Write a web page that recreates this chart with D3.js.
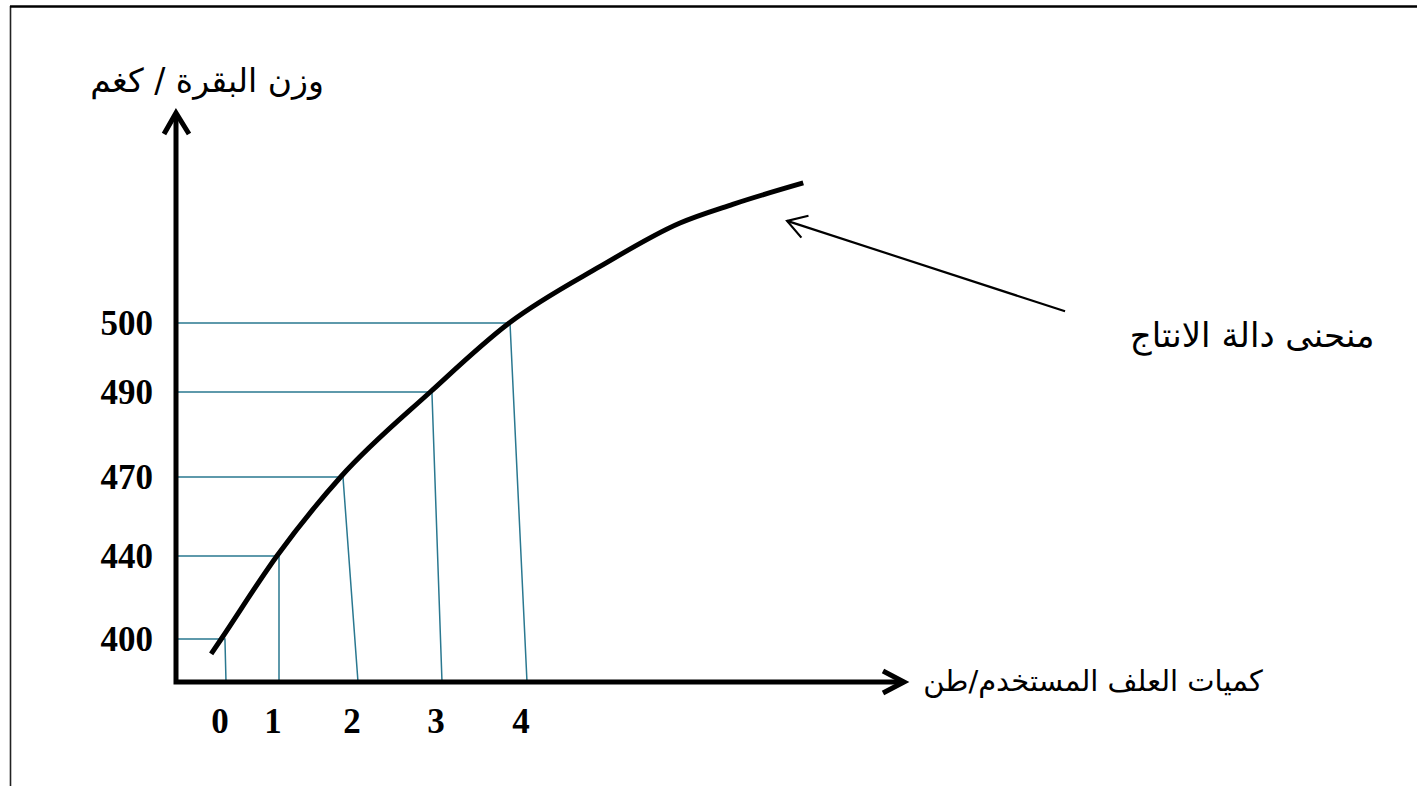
<!DOCTYPE html>
<html>
<head>
<meta charset="utf-8">
<script src="https://cdn.jsdelivr.net/npm/d3@7"></script>
<style>
  html, body { margin: 0; padding: 0; background: #fff; }
  svg { display: block; }
</style>
</head>
<body>
<svg id="chart" width="1417" height="786"></svg>
<script>
// ---------------- DATA ----------------
const feedTicks = [0, 1, 2, 3, 4];                 // كميات العلف (طن)
const feedTickLabels = ["0", "1", "2", "3", "4"];
const weightTicks = [400, 440, 470, 490, 500];     // وزن البقرة (كغم)
const weightTickLabels = ["400", "440", "470", "490", "500"];
// where each guide line meets the curve (feed units as drawn)
const guideFeed = [-0.02, 1.0, 1.81, 2.88, 3.80];
// production function curve
const curveFeed   = [-0.28, -0.09, 0.96, 1.78, 2.86, 3.79, 4.86, 5.80, 6.42, 7.25];
const curveWeight = [392.8, 400,   440,  470,  490,  500,  508.2, 514.5, 517.2, 520.3];
// annotation arrow (tail -> tip) and label
const annotFeed   = [10.33, 7.06];
const annotWeight = [501.7, 514.8];
const annotLabelFeed = 12.53, annotLabelWeight = 498.3;

const yTitle = "وزن البقرة / كغم";
const xTitle = "كميات العلف المستخدم/طن";
const curveLabel = "منحنى دالة الانتاج";

// ---------------- LAYOUT ----------------
const W = 1417, H = 786;
const originX = 176, originY = 682;
const xAxisEnd = 907, yAxisEnd = 110;
const xTickPos = [226, 279, 358, 442, 527];
const yTickPos = [639, 556, 477, 392, 323];
const guideColor = "#2a7890";

const svg = d3.select("#chart");

const x = d3.scaleLinear().domain(feedTicks).range(xTickPos);
const y = d3.scaleLinear().domain(weightTicks).range(yTickPos);

// frame
svg.append("line").attr("x1", 10.5).attr("x2", 10.5).attr("y1", 6).attr("y2", H)
  .attr("stroke", "#222").attr("stroke-width", 1.6);
svg.append("line").attr("x1", 10).attr("x2", W).attr("y1", 6.5).attr("y2", 6.5)
  .attr("stroke", "#000").attr("stroke-width", 2.6);

// guide lines
const guides = svg.append("g").attr("fill", "none").attr("stroke", guideColor).attr("stroke-width", 1.5);
weightTicks.forEach((w, i) => {
  guides.append("path").attr("d", d3.line()([
    [originX, y(w)],
    [x(guideFeed[i]), y(w)],
    [x(feedTicks[i]), originY]
  ]));
});

// curve
const curvePts = curveFeed.map((f, i) => [x(f), y(curveWeight[i])]);
svg.append("path")
  .attr("d", d3.line().curve(d3.curveMonotoneX)(curvePts))
  .attr("fill", "none").attr("stroke", "#000").attr("stroke-width", 5)
  .attr("stroke-linecap", "butt");

// axes
const axes = svg.append("g").attr("fill", "none").attr("stroke", "#000").attr("stroke-width", 5);
axes.append("path").attr("d", d3.line()([[originX, yAxisEnd + 3], [originX, originY], [xAxisEnd - 3, originY]]))
  .attr("stroke-linejoin", "miter");
axes.append("path").attr("d", d3.line()([[originX - 12, yAxisEnd + 24], [originX, yAxisEnd + 3], [originX + 13, yAxisEnd + 24]]))
  .attr("stroke-linejoin", "miter");
axes.append("path").attr("d", d3.line()([[xAxisEnd - 24, originY - 11], [xAxisEnd - 3, originY], [xAxisEnd - 24, originY + 11]]))
  .attr("stroke-linejoin", "miter");

// tick labels
const tickFont = "'Liberation Serif', 'Times New Roman', serif";
svg.append("g").selectAll("text").data(weightTicks).join("text")
  .attr("x", 153).attr("y", d => y(d))
  .attr("text-anchor", "end").attr("dominant-baseline", "central")
  .attr("font-family", tickFont).attr("font-weight", "bold").attr("font-size", 35)
  .text((d, i) => weightTickLabels[i]);
svg.append("g").selectAll("text").data(feedTicks).join("text")
  .attr("x", d => x(d) - 6).attr("y", 721)
  .attr("text-anchor", "middle").attr("dominant-baseline", "central")
  .attr("font-family", tickFont).attr("font-weight", "bold").attr("font-size", 35)
  .text((d, i) => feedTickLabels[i]);

// annotation arrow
const tail = [x(annotFeed[0]), y(annotWeight[0])];
const tip = [x(annotFeed[1]), y(annotWeight[1])];
const ang = Math.atan2(tail[1] - tip[1], tail[0] - tip[0]);
const headLen = 22, spread = 0.55;
const a1 = [tip[0] + headLen * Math.cos(ang - spread), tip[1] + headLen * Math.sin(ang - spread)];
const a2 = [tip[0] + headLen * Math.cos(ang + spread), tip[1] + headLen * Math.sin(ang + spread)];
const ann = svg.append("g").attr("fill", "none").attr("stroke", "#000").attr("stroke-width", 2.2);
ann.append("path").attr("d", d3.line()([tail, tip]));
ann.append("path").attr("d", d3.line()([a1, tip, a2]));

// titles (Arabic)
const arFont = "'DejaVu Sans', 'Noto Sans', sans-serif";
function arText(xp, yp, size, str) {
  svg.append("text").attr("x", xp).attr("y", yp)
    .attr("text-anchor", "middle").attr("dominant-baseline", "central")
    .attr("direction", "rtl")
    .attr("font-family", arFont).attr("font-size", size).attr("fill", "#000")
    .text(str);
}
arText(207, 80, 33, yTitle);
arText(1093, 681, 29, xTitle);
arText(x(annotLabelFeed), y(annotLabelWeight), 34, curveLabel);
</script>
</body>
</html>
